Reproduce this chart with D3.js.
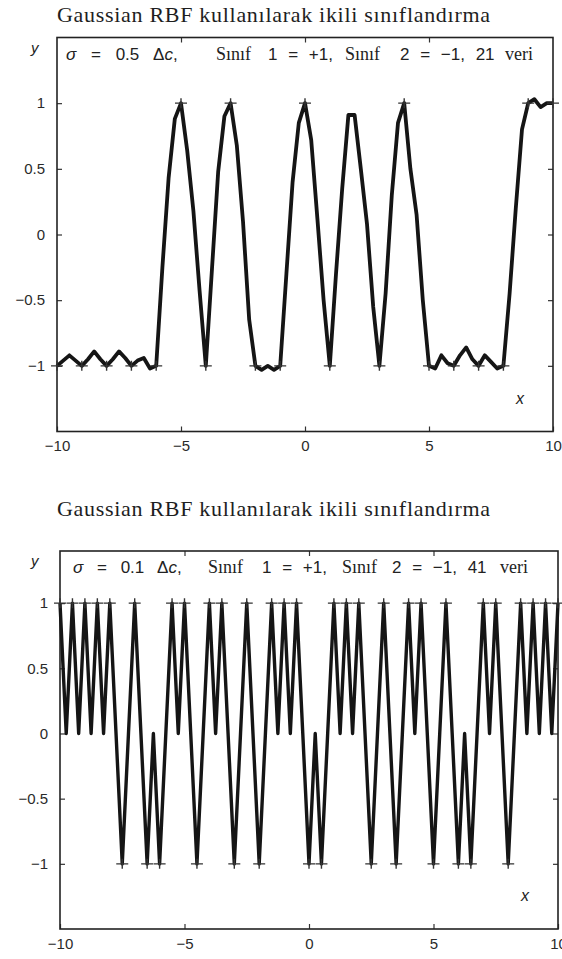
<!DOCTYPE html>
<html>
<head>
<meta charset="utf-8">
<script src="https://cdn.jsdelivr.net/npm/d3@7"></script>
<style>
  body { margin: 0; background: #fff; }
  svg { display: block; }
</style>
</head>
<body>
<svg id="chart" width="562" height="959"></svg>
<script>
// ---- data ----
const titleText = "Gaussian RBF kullanılarak ikili sınıflandırma";
const xTicks = [-10, -5, 0, 5, 10];
const xTicksTop = [-5, 0, 5];
const yTicks = [-1, -0.5, 0, 0.5, 1];

// top panel: sigma = 0.5 dc, 21 points, curve sampled every 0.25
const topSampleX = d3.range(-10, 10.001, 0.25);
const topCurveY = [
  -1, -0.96, -0.92, -0.96,   // -10 .. -9.25
  -1, -0.95, -0.89, -0.95,   // -9
  -1, -0.95, -0.89, -0.94,   // -8
  -1, -0.96, -0.94, -1.02,   // -7
  -1, -0.25, 0.43, 0.88,     // -6
  1, 0.64, 0.18, -0.43,      // -5
  -1, -0.26, 0.48, 0.9,      // -4
  1, 0.68, 0.1, -0.65,       // -3
  -1, -1.03, -1.0, -1.03,    // -2
  -1, -0.3, 0.4, 0.85,       // -1
  1, 0.72, 0.12, -0.5,       // 0
  -1, -0.3, 0.35, 0.91,      // 1
  0.91, 0.5, 0.08, -0.55,    // 2
  -1, -0.45, 0.3, 0.85,      // 3
  1, 0.5, 0.15, -0.5,        // 4
  -1, -1.02, -0.92, -0.98,   // 5
  -1, -0.92, -0.86, -0.95,   // 6
  -1, -0.92, -0.97, -1.02,   // 7
  -1, -0.45, 0.2, 0.8,       // 8
  1, 1.03, 0.97, 1.0,        // 9
  1.0                        // 10
];
const topPlusX = [-5, -3, 0, 4, 9, 10];
const topMinusX = [-10, -9, -8, -7, -6, -4, -2, -1, 1, 3, 5, 6, 7, 8];

// bottom panel: sigma = 0.1 dc, 41 points
const bottomX = [-10, -9.5, -9, -8.5, -8, -7.5, -7, -6.5, -6, -5.5, -5, -4.5, -4, -3.5,
  -3, -2.5, -2, -1.5, -1, -0.5, 0, 0.5, 1, 1.5, 2, 2.5, 3, 3.5, 4, 4.5, 5, 5.5,
  6, 6.5, 7, 7.5, 8, 8.5, 9, 9.5, 10];
const bottomClass = [1, 1, 1, 1, 1, -1, 1, -1, -1, 1, 1, -1, 1, 1,
  -1, 1, -1, 1, 1, 1, -1, -1, 1, 1, 1, -1, 1, -1, 1, 1, -1, 1,
  -1, -1, 1, 1, -1, 1, 1, 1, 1];
// curve value half way between neighbouring points
const bottomMidY = [0, 0, 0, 0, 0, 0, 0, 0, 0, 0, 0, 0, 0, 0, 0, 0, 0, 0, 0, 0,
  0, 0, 0, 0, 0, 0, 0, 0, 0, 0, 0, 0, 0, 0, 0, 0, 0, 0, 0, 0];

const svg = d3.select("#chart");
const sans = "'Liberation Sans', Arial, sans-serif";
const serif = "'Liberation Serif', 'Times New Roman', serif";
const fmt = d3.format("");

function drawPanel(o) {
  const g = svg.append("g");
  const x = d3.scaleLinear().domain([-10, 10]).range([o.left, o.right]);
  const y = d3.scaleLinear().domain(o.yDomain).range([o.bottom, o.top]);

  // title
  g.append("text")
    .attr("x", 57).attr("y", o.titleY)
    .attr("textLength", 433).attr("lengthAdjust", "spacing")
    .style("font-family", serif).style("font-size", "22px").style("fill", "#1e1e1e")
    .text(titleText);

  // axes (ticks point inward)
  const styleAxis = sel => {
    sel.select(".domain").remove();
    sel.selectAll("line").attr("stroke", "#333").attr("stroke-width", 1.2);
    sel.selectAll("text").style("font-family", sans).style("font-size", "15px").style("fill", "#2a2a2a");
  };
  g.append("g").attr("transform", `translate(0,${o.bottom})`)
    .call(d3.axisBottom(x).tickValues(xTicks).tickSize(-5).tickPadding(9).tickFormat(fmt))
    .call(styleAxis);
  g.append("g").attr("transform", `translate(${o.left},0)`)
    .call(d3.axisLeft(y).tickValues(yTicks).tickSize(-5).tickPadding(12).tickFormat(fmt))
    .call(styleAxis);
  g.append("g").attr("transform", `translate(0,${o.top})`)
    .call(d3.axisTop(x).tickValues(xTicksTop).tickSize(-5).tickFormat(""))
    .call(styleAxis);
  g.append("g").attr("transform", `translate(${o.right},0)`)
    .call(d3.axisRight(y).tickValues(yTicks).tickSize(-5).tickFormat(""))
    .call(styleAxis);

  // box
  g.append("rect")
    .attr("x", o.left).attr("y", o.top)
    .attr("width", o.right - o.left).attr("height", o.bottom - o.top)
    .attr("fill", "none").attr("stroke", "#222").attr("stroke-width", 1.6);

  // axis names
  g.append("text").attr("x", 31).attr("y", o.top + 15)
    .style("font-family", sans).style("font-style", "italic").style("font-size", "15px")
    .style("fill", "#222").text("y");
  g.append("text").attr("x", o.right - 37).attr("y", o.bottom - 28)
    .style("font-family", sans).style("font-style", "italic").style("font-size", "16px")
    .style("fill", "#222").text("x");

  // annotation: each segment is a list of [text, italic] pieces
  const ann = g.append("text").attr("y", o.top + 22).style("fill", "#222");
  o.annotation.forEach(p => {
    const seg = ann.append("tspan").attr("x", p.x)
      .style("font-family", p.serif ? serif : sans)
      .style("font-size", p.serif ? "18px" : "17px")
      .style("word-spacing", p.serif ? "0px" : (p.ws || 6) + "px");
    p.parts.forEach(([t, it]) => {
      seg.append("tspan").style("font-style", it ? "italic" : "normal").text(t);
    });
  });

  // curve
  const line = d3.line().x(d => x(d[0])).y(d => y(d[1]));
  g.append("path").datum(o.curve)
    .attr("d", line)
    .attr("fill", "none").attr("stroke", "#151515")
    .attr("stroke-width", o.lineWidth).attr("stroke-linejoin", "round");

  // data markers
  g.selectAll(".star").data(o.points).join("path")
    .attr("class", "star")
    .attr("transform", d => `translate(${x(d[0])},${y(d[1])})`)
    .attr("d", "M-6,0H6M0,-5V5")
    .attr("stroke", "#333").attr("stroke-width", 1.4).attr("fill", "none");
}

// top panel
const topCurve = topSampleX.map((v, i) => [v, topCurveY[i]]);
const topPoints = topPlusX.map(v => [v, 1]).concat(topMinusX.map(v => [v, -1]));
drawPanel({
  left: 57, right: 553, top: 37.5, bottom: 431.5,
  yDomain: [-1.5, 1.5], titleY: 22, lineWidth: 3.8,
  curve: topCurve, points: topPoints,
  annotation: [
    { x: 66, ws: 10, parts: [["σ", true], [" = 0.5 Δ", false], ["c", true], [",", false]] },
    { x: 216, serif: true, parts: [["Sınıf", false]] },
    { x: 268, parts: [["1 = +1,", false]] },
    { x: 345, serif: true, parts: [["Sınıf", false]] },
    { x: 400, parts: [["2 = −1, 21", false]] },
    { x: 505, serif: true, parts: [["veri", false]] }
  ]
});

// bottom panel
const bottomCurve = [];
bottomX.forEach((v, i) => {
  bottomCurve.push([v, bottomClass[i]]);
  if (i < bottomMidY.length) bottomCurve.push([(v + bottomX[i + 1]) / 2, bottomMidY[i]]);
});
const bottomPoints = bottomX.map((v, i) => [v, bottomClass[i]]);
drawPanel({
  left: 60, right: 558, top: 551, bottom: 929,
  yDomain: [-1.5, 1.4], titleY: 516, lineWidth: 3.4,
  curve: bottomCurve, points: bottomPoints,
  annotation: [
    { x: 73, ws: 9, parts: [["σ", true], [" = 0.1 Δ", false], ["c", true], [",", false]] },
    { x: 208, serif: true, parts: [["Sınıf", false]] },
    { x: 262, parts: [["1 = +1,", false]] },
    { x: 342, serif: true, parts: [["Sınıf", false]] },
    { x: 392, parts: [["2 = −1, 41", false]] },
    { x: 500, serif: true, parts: [["veri", false]] }
  ]
});
</script>
</body>
</html>
